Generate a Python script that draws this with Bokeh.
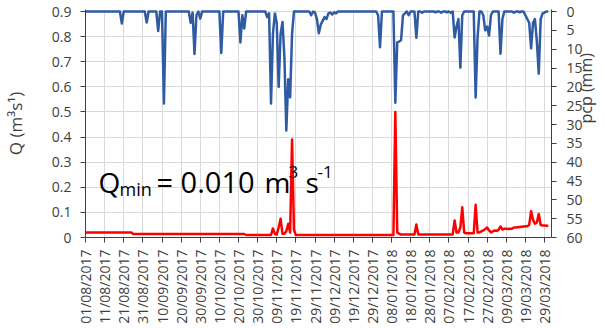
import numpy as np
import pandas as pd
from math import pi
from bokeh.plotting import figure
from bokeh.models import Range1d, LinearAxis, FixedTicker, DatetimeTickFormatter, Label
from bokeh.embed import file_html
from bokeh.resources import INLINE

# ---------------- data (daily, starting 01/08/2017) ----------------
start_date = "2017-08-01"

pcp_mm = [
    0, 0, 0, 0, 0, 0, 0, 0, 0, 0,
    0, 0, 0, 0, 0, 0, 0, 0, 0, 3.2,
    0, 0, 0, 0, 0, 0, 0, 0, 0, 0,
    0, 0, 2.9, 0, 0, 0, 0, 0, 5.2, 0,
    0, 24.4, 0, 0, 0, 0, 0, 0, 0, 0,
    0, 0, 0, 0, 0, 3.0, 0.3, 11.3, 1.0, 0,
    1.9, 0, 0, 0, 0, 0, 0, 0, 0, 0,
    0, 11.0, 0, 0, 0, 0, 0, 0, 0, 0,
    0, 8.2, 1.0, 4.5, 0, 0, 0, 0, 0, 0,
    0, 0, 0, 0, 0, 1.5, 0.5, 24.4, 6.0, 0.5,
    3.0, 20.0, 6.0, 2.8, 12.0, 31.6, 18.0, 22.8, 6.0, 0,
    0, 0, 0, 0, 0, 0, 0, 0, 1.0, 0,
    0.3, 2.0, 5.8, 3.5, 2.5, 1.5, 2.0, 0.5, 0.3, 0.8,
    0.2, 0.5, 0, 0, 0, 0, 0, 0, 0, 0,
    0, 0, 0, 0, 0, 0, 0, 0, 0, 0,
    0, 0, 0, 1.0, 9.5, 0, 0, 0, 0, 0,
    0, 0, 24.2, 8.2, 8.0, 7.6, 1.0, 0.5, 0, 1.0,
    0, 0, 0, 7.0, 0, 0, 0.3, 0, 0, 0,
    0, 0, 0, 0.2, 0, 0, 0.3, 0, 0, 0.2,
    0, 0.3, 0, 6.9, 4.0, 2.0, 14.9, 1.0, 0, 0,
    0, 0, 0, 0, 22.8, 7.0, 0, 0, 1.0, 5.0,
    4.0, 6.4, 1.0, 0, 0, 0, 0, 11.2, 2.0, 0,
    0, 0, 0, 0, 0.3, 0, 0, 0.2, 0, 0,
    1.0, 2.0, 3.0, 9.8, 3.0, 2.0, 8.0, 16.5, 2.0, 0.5,
    0.3, 0, 0,
]

q_m3s = [
    0.020, 0.020, 0.020, 0.020, 0.020, 0.020, 0.020, 0.020, 0.020, 0.020,
    0.020, 0.020, 0.020, 0.020, 0.020, 0.020, 0.020, 0.020, 0.020, 0.020,
    0.020, 0.020, 0.020, 0.020, 0.020, 0.014, 0.014, 0.014, 0.014, 0.014,
    0.014, 0.014, 0.014, 0.014, 0.014, 0.014, 0.014, 0.014, 0.014, 0.014,
    0.014, 0.014, 0.014, 0.014, 0.014, 0.014, 0.014, 0.014, 0.014, 0.014,
    0.014, 0.014, 0.014, 0.014, 0.014, 0.014, 0.014, 0.014, 0.014, 0.014,
    0.014, 0.014, 0.014, 0.014, 0.014, 0.014, 0.014, 0.014, 0.014, 0.014,
    0.014, 0.014, 0.014, 0.014, 0.014, 0.014, 0.014, 0.014, 0.014, 0.014,
    0.014, 0.014, 0.014, 0.014, 0.010, 0.010, 0.010, 0.010, 0.010, 0.010,
    0.010, 0.010, 0.010, 0.010, 0.010, 0.010, 0.010, 0.010, 0.036, 0.015,
    0.012, 0.040, 0.075, 0.015, 0.015, 0.025, 0.055, 0.020, 0.390, 0.030,
    0.010, 0.010, 0.010, 0.010, 0.010, 0.010, 0.010, 0.010, 0.010, 0.010,
    0.010, 0.010, 0.010, 0.010, 0.010, 0.010, 0.010, 0.010, 0.010, 0.010,
    0.010, 0.010, 0.010, 0.010, 0.010, 0.010, 0.010, 0.010, 0.010, 0.010,
    0.010, 0.010, 0.010, 0.010, 0.010, 0.010, 0.010, 0.010, 0.010, 0.010,
    0.010, 0.010, 0.010, 0.010, 0.010, 0.010, 0.010, 0.010, 0.010, 0.010,
    0.010, 0.010, 0.500, 0.020, 0.015, 0.012, 0.012, 0.012, 0.012, 0.012,
    0.012, 0.012, 0.012, 0.052, 0.012, 0.012, 0.012, 0.012, 0.012, 0.012,
    0.012, 0.012, 0.012, 0.012, 0.012, 0.012, 0.012, 0.012, 0.012, 0.012,
    0.012, 0.012, 0.012, 0.068, 0.020, 0.020, 0.040, 0.120, 0.020, 0.017,
    0.017, 0.017, 0.017, 0.017, 0.130, 0.020, 0.020, 0.024, 0.028, 0.034,
    0.040, 0.028, 0.020, 0.024, 0.028, 0.027, 0.030, 0.044, 0.032, 0.035,
    0.035, 0.034, 0.035, 0.035, 0.040, 0.040, 0.041, 0.042, 0.043, 0.044,
    0.045, 0.045, 0.050, 0.105, 0.070, 0.055, 0.060, 0.094, 0.050, 0.048,
    0.048, 0.047, 0.047,
]

tick_labels = [
    "01/08/2017", "11/08/2017", "21/08/2017", "31/08/2017", "10/09/2017",
    "20/09/2017", "30/09/2017", "10/10/2017", "20/10/2017", "30/10/2017",
    "09/11/2017", "19/11/2017", "29/11/2017", "09/12/2017", "19/12/2017",
    "29/12/2017", "08/01/2018", "18/01/2018", "28/01/2018", "07/02/2018",
    "17/02/2018", "27/02/2018", "09/03/2018", "19/03/2018", "29/03/2018",
]
q_ticks = [0, 0.1, 0.2, 0.3, 0.4, 0.5, 0.6, 0.7, 0.8, 0.9]
pcp_ticks = [0, 5, 10, 15, 20, 25, 30, 35, 40, 45, 50, 55, 60]

# ---------------- layout constants ----------------
BLUE = "#2f5ba3"
RED = "#ff0000"
GRID = "#d9d9d9"
AXIS = "#404040"
FONT = "Open Sans"

dates = pd.date_range(start_date, periods=len(pcp_mm), freq="D")
MS_DAY = 86400000.0
x0 = pd.Timestamp(start_date).value / 1e6
span_days = 243.66
x1 = x0 + span_days * MS_DAY

FIG_W, FIG_H = 605, 328
LEFT_PX, RIGHT_PX = 82, 548
TOP_PX, BOT_PX = 11, 237      # pixels of Q=0.9 and Q=0
PAD = 2                       # frame extends PAD px above the 0.9 line
FRAME_W = RIGHT_PX - LEFT_PX
FRAME_H = BOT_PX - TOP_PX + PAD
Q_TOP = 0.9 * FRAME_H / (BOT_PX - TOP_PX)
PX_DAY = FRAME_W / span_days

def x_at(px):  # pixel -> data x
    return x0 + (px - LEFT_PX) / PX_DAY * MS_DAY

def q_at(py):  # pixel -> data y (Q)
    return (BOT_PX - py) * Q_TOP / FRAME_H

p = figure(x_axis_type="datetime", frame_width=FRAME_W, frame_height=FRAME_H,
           x_range=Range1d(x0, x1), y_range=Range1d(0, Q_TOP),
           output_backend="svg", toolbar_location=None,
           min_border_left=LEFT_PX, min_border_right=FIG_W - RIGHT_PX,
           min_border_top=TOP_PX - PAD, min_border_bottom=FIG_H - BOT_PX,
           background_fill_color="white", border_fill_color="white",
           outline_line_color=None)

p.extra_y_ranges = {"pcp": Range1d(start=60, end=60 - 60 * Q_TOP / 0.9)}

xticks = [pd.Timestamp(pd.to_datetime(t, format="%d/%m/%Y")).value / 1e6 for t in tick_labels]
xt = FixedTicker(ticks=xticks)
yt = FixedTicker(ticks=q_ticks)

xaxis = p.xaxis[0]
yaxis = p.yaxis[0]
xaxis.ticker = xt
fmt = "%d/%m/%Y"
xaxis.formatter = DatetimeTickFormatter(microseconds=fmt, milliseconds=fmt, seconds=fmt, minsec=fmt,
                                        minutes=fmt, hourmin=fmt, hours=fmt, days=fmt,
                                        months=fmt, years=fmt)
xaxis.major_label_orientation = pi / 2
yaxis.ticker = yt
yaxis.major_label_overrides = {0: "0"}
yaxis.axis_label = "Q (m³s¹)"
p.xgrid.ticker = xt
p.ygrid.ticker = yt

right = LinearAxis(y_range_name="pcp", ticker=FixedTicker(ticks=pcp_ticks))
right.axis_label = "pcp (mm)"
if "axis_label_orientation" in right.properties():
    right.axis_label_orientation = pi / 2
p.add_layout(right, "right")

for ax in (xaxis, yaxis, right):
    ax.axis_line_color = AXIS
    ax.axis_line_width = 1
    ax.major_tick_line_color = AXIS
    ax.major_tick_out = 5
    ax.major_tick_in = 0
    ax.minor_tick_line_color = None
    ax.major_label_text_font = FONT
    ax.major_label_text_font_size = "14px"
    ax.major_label_text_color = AXIS
    ax.axis_label_text_font = FONT
    ax.axis_label_text_font_size = "17px"
    ax.axis_label_text_font_style = "normal"
    ax.axis_label_text_color = AXIS
xaxis.major_label_text_font_size = "14px"
xaxis.major_label_standoff = 7
yaxis.major_label_standoff = 9
right.major_label_standoff = 10
right.axis_label_text_font_size = "16px"
yaxis.axis_label_standoff = 22
right.axis_label_standoff = 0

p.xgrid.grid_line_color = GRID
p.ygrid.grid_line_color = GRID

p.line(dates, pcp_mm, y_range_name="pcp", line_color=BLUE, line_width=2.5, line_join="round")
p.line(dates, q_m3s, line_color=RED, line_width=2.5, line_join="round")

# annotation text Q_min = 0.010 m3 s-1
parts = [
    ("Q", 95, 181, "28px"),
    ("min", 116, 188, "18px"),
    ("= 0.010", 153, 181, "29px"),
    ("m", 261, 181, "28px"),
    ("3", 285, 171, "17px"),
    ("s", 302, 181, "28px"),
    ("-1", 314, 171, "17px"),
]
for txt, px, py, size in parts:
    p.add_layout(Label(x=x_at(px), y=q_at(py), text=txt, text_font=FONT,
                       text_font_size=size, text_color="black",
                       text_align="left", text_baseline="alphabetic"))

open("out.html", "w").write(file_html(p, INLINE))
